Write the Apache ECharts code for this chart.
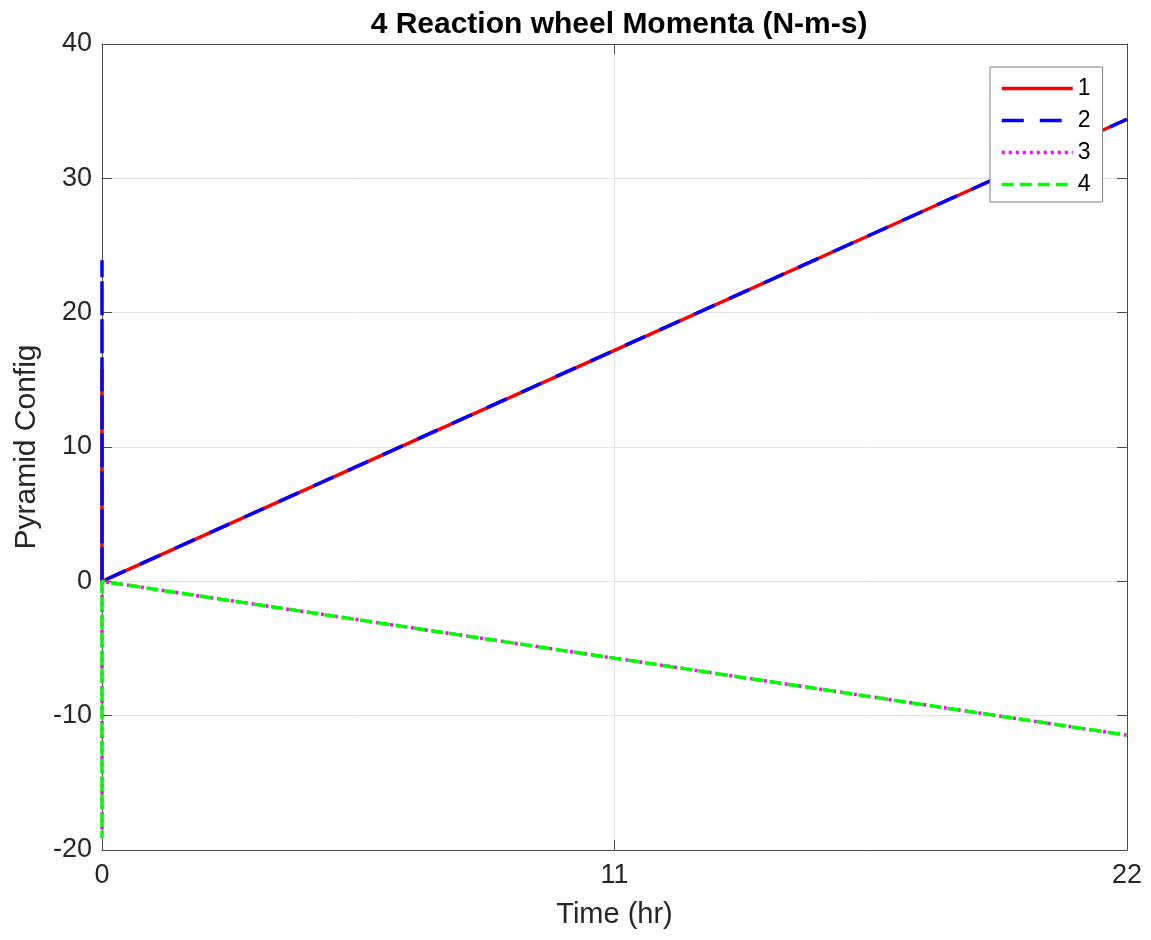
<!DOCTYPE html>
<html>
<head>
<meta charset="utf-8">
<title>4 Reaction wheel Momenta</title>
<script src="https://cdn.jsdelivr.net/npm/echarts@6/dist/echarts.min.js"></script>
<style>
  html, body { margin: 0; padding: 0; background: #ffffff; }
  #chart { width: 1151px; height: 940px; }
</style>
</head>
<body>
<div id="chart"></div>
<script>
// Time samples (hours); the first three share t = 0 to draw the start-up transient
const timeHr = [0, 0, 0, 5.5, 11, 16.5, 22];
// Wheel momenta (N-m-s) at each sample
const wheel1 = [0, 15.8, 0, 8.6, 17.2, 25.8, 34.4];
const wheel2 = [0, 23.9, 0, 8.6, 17.2, 25.8, 34.4];
const wheel3 = [0, -18.6, 0, -2.86, -5.72, -8.59, -11.45];
const wheel4 = [0, -19.1, 0, -2.86, -5.72, -8.59, -11.45];
const seriesNames = ['1', '2', '3', '4'];
const xTicks = [0, 11, 22];
const yTicks = [-20, -10, 0, 10, 20, 30, 40];

const FONT = '"Liberation Sans", Arial, Helvetica, sans-serif';
const TEXT = '#262626';
const AXIS = '#4a4a4a';

function pairs(ys) { return ys.map((v, i) => [timeHr[i], v]); }

const styles = [
  { color: '#ff0000', type: 'solid' },
  { color: '#0000ff', type: [22, 16] },
  { color: '#ff00ff', type: [3, 4] },
  { color: '#00ff00', type: [12, 6] }
];
const values = [wheel1, wheel2, wheel3, wheel4];

const chart = echarts.init(document.getElementById('chart'), null, { renderer: 'canvas' });

const boxLine = { show: true, onZero: false, lineStyle: { color: AXIS, width: 1 } };
const tickStyle = { show: true, inside: true, length: 10, lineStyle: { color: AXIS, width: 1 } };
const gridLine = { show: true, lineStyle: { color: '#e3e3e3', width: 1 } };

chart.setOption({
  animation: false,
  backgroundColor: '#ffffff',
  title: {
    text: '4 Reaction wheel Momenta (N-m-s)',
    left: 614, top: 5, textAlign: 'center',
    textStyle: { fontFamily: FONT, fontSize: 30, fontWeight: 'bold', color: '#000000' }
  },
  legend: {
    orient: 'vertical',
    left: 990, top: 67,
    padding: [10, 12, 6, 10],
    itemWidth: 71, itemHeight: 20, itemGap: 9,
    backgroundColor: '#ffffff',
    borderColor: '#7f7f7f', borderWidth: 1, borderRadius: 0,
    itemStyle: { color: 'rgba(0,0,0,0)', borderWidth: 0, opacity: 0 },
    lineStyle: { width: 3.5 },
    textStyle: { fontFamily: FONT, fontSize: 23, color: '#000000' },
    data: seriesNames
  },
  grid: { left: 102, right: 24, top: 44, bottom: 90, containLabel: false },
  xAxis: [
    {
      type: 'value', min: 0, max: 22, interval: 11,
      name: 'Time (hr)', nameLocation: 'middle', nameGap: 50,
      nameTextStyle: { fontFamily: FONT, fontSize: 29, color: TEXT },
      axisLine: boxLine, axisTick: tickStyle,
      axisLabel: { fontFamily: FONT, fontSize: 27, color: TEXT, margin: 12,
        customValues: xTicks, formatter: v => String(v) },
      splitLine: gridLine
    },
    {
      type: 'value', position: 'top', min: 0, max: 22, interval: 11,
      axisLine: boxLine, axisTick: tickStyle,
      axisLabel: { show: false }, splitLine: { show: false }
    }
  ],
  yAxis: [
    {
      type: 'value', min: -20, max: 40, interval: 10,
      name: 'Pyramid Config', nameLocation: 'middle', nameGap: 58,
      nameTextStyle: { fontFamily: FONT, fontSize: 30, color: TEXT },
      axisLine: boxLine, axisTick: tickStyle,
      axisLabel: { fontFamily: FONT, fontSize: 27, color: TEXT, margin: 10,
        customValues: yTicks, formatter: v => String(v) },
      splitLine: gridLine
    },
    {
      type: 'value', position: 'right', min: -20, max: 40, interval: 10,
      axisLine: boxLine, axisTick: tickStyle,
      axisLabel: { show: false }, splitLine: { show: false }
    }
  ],
  series: seriesNames.map((name, i) => ({
    name: name,
    type: 'line',
    data: pairs(values[i]),
    showSymbol: false,
    symbol: 'none',
    color: styles[i].color,
    lineStyle: { color: styles[i].color, width: 3.5, type: styles[i].type },
    z: 2 + i
  }))
});
</script>
</body>
</html>
